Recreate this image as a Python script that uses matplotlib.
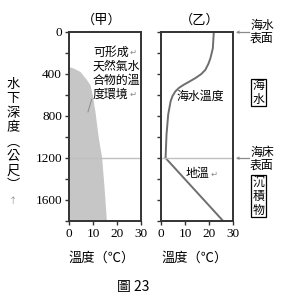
import matplotlib.pyplot as plt
from matplotlib.patches import Rectangle

plt.rcParams['font.family'] = ['Noto Sans CJK TC', 'DejaVu Sans']

# hydrate stability region (left panel)
hyd_depth = [330, 345, 376, 400, 450, 502, 600, 755, 1004, 1193, 1477, 1800]
hyd_temp = [0, 2.0, 4.6, 5.4, 7.2, 8.75, 9.7, 10.8, 12.2, 13.6, 14.6, 15.6]

# sea water temperature (right panel)
wt_depth = [0, 155, 249, 300, 360, 400, 438, 470, 502, 530, 565, 610, 660, 786, 975, 1200]
wt_temp = [22, 21.6, 20.6, 19.8, 18.5, 16.8, 14.4, 12.0, 9.5, 7.6, 6.0, 4.8, 4.0, 3.0, 2.3, 1.9]

# geothermal gradient below seafloor
gt_depth = [1200, 1790]
gt_temp = [1.9, 25.5]

seafloor = 1200
xticks = [0, 10, 20, 30]
yticks = list(range(0, 1801, 200))
ylabels = [str(v) if v % 400 == 0 and v < 1800 else '' for v in yticks]

fig = plt.figure(figsize=(2.94, 3.04), dpi=100)
ax1 = fig.add_axes([69/294, 1-221/304, 72/294, 189/304])
ax2 = fig.add_axes([161/294, 1-221/304, 72/294, 189/304])

ax1.fill_betweenx(hyd_depth, 0, hyd_temp, color='#c6c6c6', lw=0)
ax1.plot([9.5, 7.9], [640, 760], color='#909090', lw=0.8)

ax2.plot(wt_temp, wt_depth, color='#6e6e6e', lw=1.4)
ax2.plot(gt_temp, gt_depth, color='#6e6e6e', lw=1.4)

for ax in (ax1, ax2):
    ax.axhline(seafloor, color='#c0c0c0', lw=1.0)
    ax.set_xlim(0, 30)
    ax.set_ylim(1800, 0)
    ax.set_xticks(xticks)
    ax.set_yticks(yticks)
    for s in ax.spines.values():
        s.set_color('#333333')
        s.set_linewidth(1.4)
    ax.tick_params(direction='out', length=3, width=1.0, color='#333333', pad=2)
    ax.set_xticklabels([str(v) for v in xticks], family='Liberation Serif', fontsize=9.5)

ax1.set_yticklabels(ylabels, family='Liberation Serif', fontsize=9.5)
ax2.set_yticklabels([])

gray = '#8a8a8a'
cjk = ['Noto Sans CJK TC', 'DejaVu Sans']

fig.text(102/294, 1-20/304, '（甲）', ha='center', va='center', fontsize=9.5)
fig.text(200/294, 1-20/304, '（乙）', ha='center', va='center', fontsize=9.5)

# text in left panel
for i, line in enumerate(['可形成', '天然氣水', '合物的溫', '度環境']):
    fig.text(93/294, 1-(52 + i*14)/304, line, ha='left', va='center', fontsize=8.6)
fig.text(130/294, 1-52/304, '↵', color=gray, fontsize=6, va='center', family=cjk)
fig.text(130/294, 1-94/304, '↵', color=gray, fontsize=6, va='center', family=cjk)

# text in right panel
fig.text(176/294, 1-96/304, '海水溫度', ha='left', va='center', fontsize=8.6)
fig.text(186/294, 1-174/304, '地溫', ha='left', va='center', fontsize=8.6)
fig.text(211/294, 1-174/304, '↵', color=gray, fontsize=6, va='center', family=cjk)

# right side notes
fig.text(250/294, 1-25/304, '海水', ha='left', va='center', fontsize=8.6)
fig.text(250/294, 1-38/304, '表面', ha='left', va='center', fontsize=8.6)
fig.text(250/294, 1-152/304, '海床', ha='left', va='center', fontsize=8.6)
fig.text(250/294, 1-165/304, '表面', ha='left', va='center', fontsize=8.6)
for yy in (32, 158):
    fig.add_artist(plt.Line2D([237/294, 249/294], [1-yy/304, 1-yy/304],
                              color=gray, lw=0.9))
    fig.text(236/294, 1-yy/304, '◂', color=gray, fontsize=5, ha='left', va='center',
             family=['DejaVu Sans'])

fig.add_artist(Rectangle((251/294, 1-106/304), 15/294, 27/304, fill=False,
                         ec='black', lw=0.9, transform=fig.transFigure))
fig.text(258.5/294, 1-85/304, '海', ha='center', va='center', fontsize=8.6)
fig.text(258.5/294, 1-99/304, '水', ha='center', va='center', fontsize=8.6)

fig.add_artist(Rectangle((251/294, 1-217/304), 15/294, 42/304, fill=False,
                         ec='black', lw=0.9, transform=fig.transFigure))
for i, ch in enumerate('沉積物'):
    fig.text(258.5/294, 1-(182 + i*14)/304, ch, ha='center', va='center', fontsize=8.6)

# vertical y label
for i, ch in enumerate(['水', '下', '深', '度', '︵', '公', '尺', '︶']):
    fig.text(13/294, 1-(84 + i*14.5)/304, ch, ha='center', va='center', fontsize=9.5)
fig.text(13/294, 1-201/304, '↑', color=gray, ha='center', va='center', fontsize=6,
         family=cjk)

fig.text(102/294, 1-258/304, '溫度（℃）', ha='center', va='center', fontsize=9.5)
fig.text(195/294, 1-258/304, '溫度（℃）', ha='center', va='center', fontsize=9.5)
fig.text(133/294, 1-287/304, '圖 23', ha='center', va='center', fontsize=10,
         family=['Noto Sans CJK TC', 'Liberation Serif'])

fig.savefig('out.png', dpi=100)
